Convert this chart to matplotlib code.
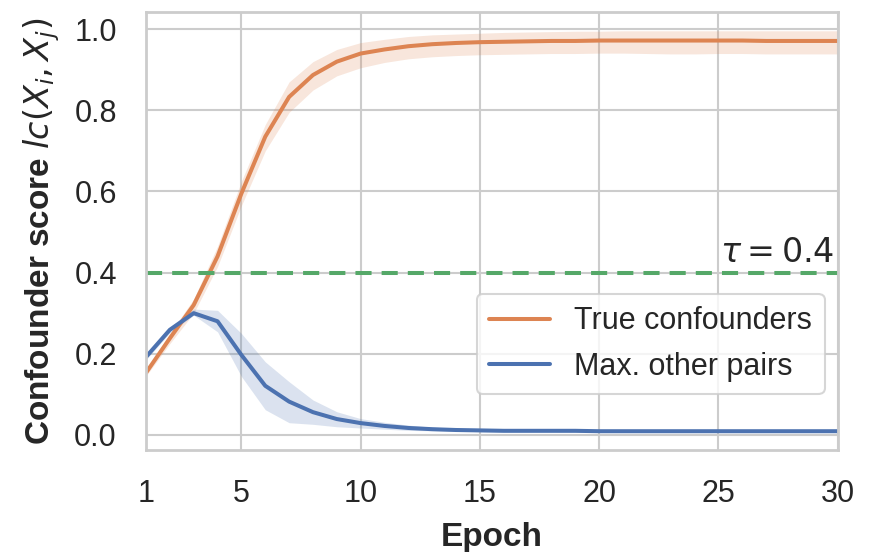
import matplotlib
matplotlib.use("Agg")
import matplotlib.pyplot as plt
import numpy as np
import seaborn as sns

sns.set_theme(style="whitegrid")
plt.rcParams['font.family'] = ['Liberation Sans', 'DejaVu Sans']
plt.rcParams['mathtext.fontset'] = 'dejavusans'

epochs = np.arange(1, 31)

true_mean = [0.153, 0.238, 0.32, 0.44, 0.595, 0.735, 0.833, 0.887, 0.92, 0.94,
             0.95, 0.958, 0.963, 0.966, 0.968, 0.969, 0.970, 0.971, 0.971, 0.972,
             0.972, 0.972, 0.972, 0.972, 0.972, 0.972, 0.971, 0.971, 0.971, 0.971]
true_lo = [0.145, 0.225, 0.30, 0.415, 0.565, 0.70, 0.795, 0.85, 0.885, 0.905,
           0.918, 0.927, 0.932, 0.935, 0.937, 0.938, 0.939, 0.940, 0.940, 0.941,
           0.941, 0.940, 0.939, 0.939, 0.940, 0.940, 0.939, 0.939, 0.939, 0.939]
true_hi = [0.16, 0.25, 0.335, 0.465, 0.625, 0.765, 0.87, 0.92, 0.95, 0.967,
           0.975, 0.982, 0.986, 0.988, 0.990, 0.992, 0.993, 0.994, 0.995, 0.995,
           0.996, 0.996, 0.996, 0.996, 0.996, 0.996, 0.996, 0.996, 0.996, 0.996]

other_mean = [0.192, 0.259, 0.30, 0.28, 0.197, 0.121, 0.082, 0.056, 0.039, 0.029,
              0.022, 0.017, 0.014, 0.012, 0.011, 0.010, 0.010, 0.010, 0.010, 0.009,
              0.009, 0.009, 0.009, 0.009, 0.009, 0.009, 0.009, 0.009, 0.009, 0.009]
other_lo = [0.185, 0.252, 0.295, 0.254, 0.144, 0.062, 0.03, 0.026, 0.02, 0.017,
            0.014, 0.011, 0.010, 0.009, 0.008, 0.008, 0.008, 0.008, 0.007, 0.007,
            0.007, 0.007, 0.007, 0.007, 0.007, 0.007, 0.007, 0.007, 0.007, 0.007]
other_hi = [0.198, 0.266, 0.31, 0.307, 0.25, 0.18, 0.131, 0.086, 0.057, 0.04,
            0.031, 0.024, 0.019, 0.016, 0.014, 0.013, 0.012, 0.012, 0.012, 0.011,
            0.011, 0.011, 0.011, 0.011, 0.011, 0.011, 0.011, 0.011, 0.011, 0.011]

tau = 0.4
xticks = [1, 5, 10, 15, 20, 25, 30]

orange = '#DD8452'
blue = '#4C72B0'
green = '#55A868'

fig, ax = plt.subplots(figsize=(8.69, 5.52), dpi=100)
fig.subplots_adjust(left=0.168, right=0.964, top=0.978, bottom=0.185)

ax.fill_between(epochs, true_lo, true_hi, color=orange, alpha=0.2, lw=0)
ax.plot(epochs, true_mean, color=orange, lw=2.9, label='True confounders')
ax.fill_between(epochs, other_lo, other_hi, color=blue, alpha=0.2, lw=0)
ax.plot(epochs, other_mean, color=blue, lw=2.9, label='Max. other pairs')
ax.axhline(tau, color=green, ls='--', lw=2.9, dashes=(4, 2.5))
ax.text(29.85, tau + 0.01, r'$\tau = 0.4$', ha='right', va='bottom', fontsize=24, color='#262626')

ax.set_xlim(1, 30)
ax.set_ylim(-0.037, 1.042)
ax.set_xticks(xticks)
ax.set_yticks([0.0, 0.2, 0.4, 0.6, 0.8, 1.0])
ax.tick_params(labelsize=22, colors='#262626', pad=15)
ax.grid(True, color='#cccccc', lw=1.5)
for s in ax.spines.values():
    s.set_color('#cccccc')
    s.set_linewidth(2)

ax.set_xlabel('Epoch', fontsize=24, fontweight='bold', color='#262626', labelpad=9)
ax.set_ylabel(r'Confounder score $lc(X_i, X_j)$', fontsize=24, fontweight='bold',
              color='#262626', labelpad=9)

leg = ax.legend(loc='lower right', bbox_to_anchor=(0.981, 0.128), borderaxespad=0,
                fontsize=22, frameon=True, handlelength=2.0)
leg.get_frame().set_edgecolor('#cccccc')
leg.get_frame().set_linewidth(1.5)

fig.savefig('out.png', dpi=100)
